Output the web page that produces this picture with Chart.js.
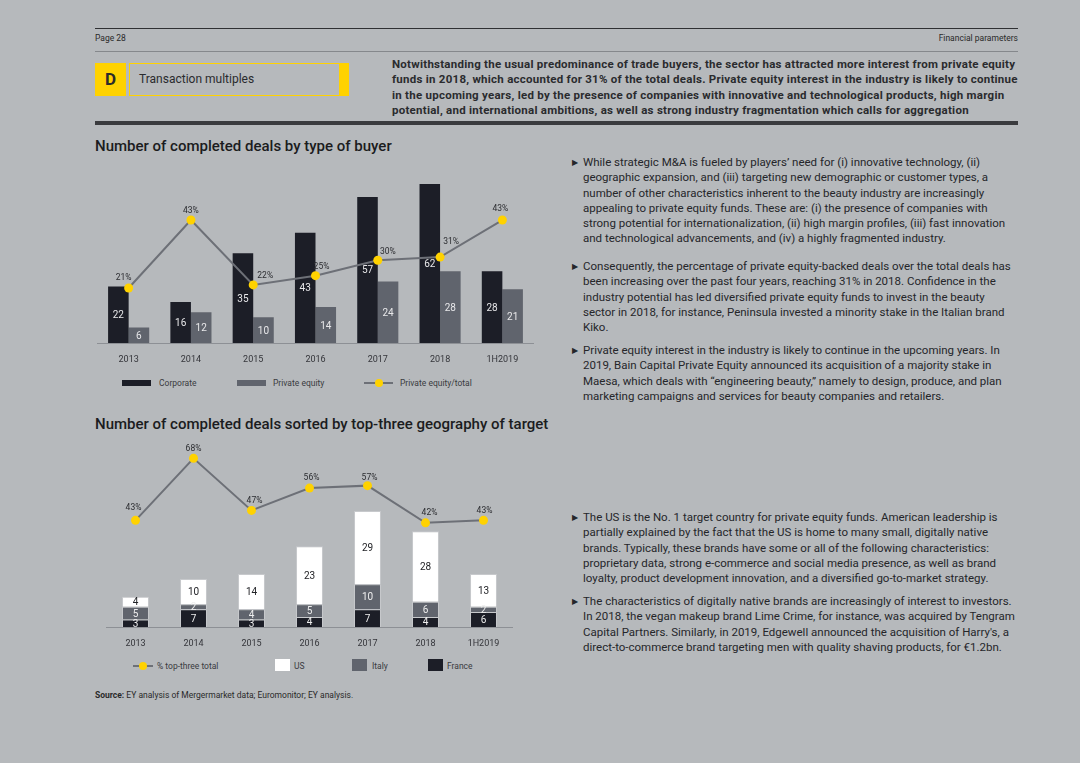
<!DOCTYPE html>
<html>
<head>
<meta charset="utf-8">
<script src="https://cdn.jsdelivr.net/npm/chart.js@4.4.0/dist/chart.umd.min.js"></script>
<style>
    body { margin: 0; width: 1080px; height: 763px; background: #b6b9bc; font-family: Roboto, sans-serif; color: #1e1f22; position: relative; overflow: hidden; }
    .abs { position: absolute; white-space: nowrap; }
    .rule { position: absolute; left: 95px; width: 923px; }
    .small { font-size: 8.5px; color: #2a2a2a; }
    .title { font-size: 15px; font-weight: 500; color: #1b1c20; }
    .para { font-size: 11.5px; line-height: 15.3px; color: #25262a; }
    .bullet { position: absolute; left: -11px; font-size: 8px; }
    .legend { font-size: 8.5px; color: #3a3b3f; }
    .sw { position: absolute; }
    canvas { position: absolute; }
</style>
</head>
<body>

<div class="rule" style="top:28px;height:1px;background:#2f3033"></div>
<div class="abs small" style="left:95px;top:33px;">Page 28</div>
<div class="abs small" style="left:900px;top:33px;width:118px;text-align:right;">Financial parameters</div>
<div class="rule" style="top:51px;height:1px;background:#85888c"></div>

<div class="abs" style="left:95px;top:63px;width:31px;height:33px;background:#ffd200;font-weight:700;font-size:17px;text-align:center;line-height:33px;color:#2b2b2b;">D</div>
<div class="abs" style="left:129px;top:63px;width:209px;height:31px;border:1px solid #ffd200;"></div>
<div class="abs" style="left:340px;top:63px;width:9px;height:33px;background:#ffd200;"></div>
<div class="abs" style="left:139px;top:72px;font-size:12px;color:#2a2b2e;">Transaction multiples</div>

<div class="abs" style="left:392px;top:57px;font-size:11.5px;letter-spacing:0.25px;font-weight:700;line-height:15.4px;color:#2a2b2e;">
Notwithstanding the usual predominance of trade buyers, the sector has attracted more interest from private equity<br>
funds in 2018, which accounted for 31% of the total deals. Private equity interest in the industry is likely to continue<br>
in the upcoming years, led by the presence of companies with innovative and technological products, high margin<br>
potential, and international ambitions, as well as strong industry fragmentation which calls for aggregation
</div>
<div class="rule" style="top:121px;height:4px;background:#3a3b3e"></div>

<div class="abs title" style="left:95px;top:137px;">Number of completed deals by type of buyer</div>
<canvas id="buyerChart" width="445" height="207" style="left:93px;top:160px;"></canvas>

<div class="sw" style="left:122px;top:380px;width:29px;height:6px;background:#1c1e27"></div>
<div class="abs legend" style="left:159px;top:378px;">Corporate</div>
<div class="sw" style="left:237px;top:380px;width:29px;height:6px;background:#60646d"></div>
<div class="abs legend" style="left:273px;top:378px;">Private equity</div>
<div class="sw" style="left:364px;top:382px;width:29px;height:2px;background:#6d7077"></div>
<div class="sw" style="left:375px;top:379px;width:8px;height:8px;border-radius:50%;background:#ffd200"></div>
<div class="abs legend" style="left:400px;top:378px;">Private equity/total</div>

<div class="abs title" style="left:95px;top:415px;">Number of completed deals sorted by top-three geography of target</div>
<canvas id="geoChart" width="415" height="221" style="left:102px;top:430px;"></canvas>

<div class="sw" style="left:133px;top:665px;width:20px;height:2px;background:#6d7077"></div>
<div class="sw" style="left:139px;top:662px;width:8px;height:8px;border-radius:50%;background:#ffd200"></div>
<div class="abs legend" style="left:157px;top:661px;">% top-three total</div>
<div class="sw" style="left:275px;top:659px;width:15px;height:12px;background:#ffffff"></div>
<div class="abs legend" style="left:294px;top:661px;">US</div>
<div class="sw" style="left:352px;top:659px;width:15px;height:12px;background:#60646d"></div>
<div class="abs legend" style="left:372px;top:661px;">Italy</div>
<div class="sw" style="left:428px;top:659px;width:15px;height:12px;background:#1c1e27"></div>
<div class="abs legend" style="left:447px;top:661px;">France</div>

<div class="abs small" style="left:95px;top:690px;"><b>Source:</b> EY analysis of Mergermarket data; Euromonitor; EY analysis.</div>

<div class="abs para" style="left:583px;top:155px;"><span class="bullet">&#9654;</span>While strategic M&amp;A is fueled by players’ need for (i) innovative technology, (ii)<br>
geographic expansion, and (iii) targeting new demographic or customer types, a<br>
number of other characteristics inherent to the beauty industry are increasingly<br>
appealing to private equity funds. These are: (i) the presence of companies with<br>
strong potential for internationalization, (ii) high margin profiles, (iii) fast innovation<br>
and technological advancements, and (iv) a highly fragmented industry.</div>

<div class="abs para" style="left:583px;top:259px;"><span class="bullet">&#9654;</span>Consequently, the percentage of private equity-backed deals over the total deals has<br>
been increasing over the past four years, reaching 31% in 2018. Confidence in the<br>
industry potential has led diversified private equity funds to invest in the beauty<br>
sector in 2018, for instance, Peninsula invested a minority stake in the Italian brand<br>
Kiko.</div>

<div class="abs para" style="left:583px;top:343px;"><span class="bullet">&#9654;</span>Private equity interest in the industry is likely to continue in the upcoming years. In<br>
2019, Bain Capital Private Equity announced its acquisition of a majority stake in<br>
Maesa, which deals with “engineering beauty,” namely to design, produce, and plan<br>
marketing campaigns and services for beauty companies and retailers.</div>

<div class="abs para" style="left:583px;top:510px;"><span class="bullet">&#9654;</span>The US is the No. 1 target country for private equity funds. American leadership is<br>
partially explained by the fact that the US is home to many small, digitally native<br>
brands. Typically, these brands have some or all of the following characteristics:<br>
proprietary data, strong e-commerce and social media presence, as well as brand<br>
loyalty, product development innovation, and a diversified go-to-market strategy.</div>

<div class="abs para" style="left:583px;top:594px;"><span class="bullet">&#9654;</span>The characteristics of digitally native brands are increasingly of interest to investors.<br>
In 2018, the vegan makeup brand Lime Crime, for instance, was acquired by Tengram<br>
Capital Partners. Similarly, in 2019, Edgewell announced the acquisition of Harry's, a<br>
direct-to-commerce brand targeting men with quality shaving products, for €1.2bn.</div>

<script>
const years = ['2013', '2014', '2015', '2016', '2017', '2018', '1H2019'];

// deals by type of buyer
const corporate = [22, 16, 35, 43, 57, 62, 28];
const privateEquity = [6, 12, 10, 14, 24, 28, 21];
const peShare = [21, 43, 22, 25, 30, 31, 43];

// deals by top-three geography
const france = [3, 7, 3, 4, 7, 4, 6];
const italy = [5, 2, 4, 5, 10, 6, 2];
const us = [4, 10, 14, 23, 29, 28, 13];
const topThreeShare = [43, 68, 47, 56, 57, 42, 43];

const DARK = '#1c1e27';
const GREY = '#60646d';
const LINE = '#6d7077';
const YELLOW = '#ffd200';

// draws the numbers on bars and the % above line points
const valueLabels = {
    id: 'valueLabels',
    afterDatasetsDraw(chart, args, opts) {
        const ctx = chart.ctx;
        chart.data.datasets.forEach((ds, i) => {
            const meta = chart.getDatasetMeta(i);
            meta.data.forEach((el, j) => {
                const v = ds.data[j];
                ctx.save();
                ctx.textAlign = 'center';
                ctx.textBaseline = 'middle';
                if (ds.type === 'line') {
                    const off = opts.lineOffsets[j];
                    ctx.font = '8.5px Roboto';
                    ctx.fillStyle = '#2b2c30';
                    ctx.fillText(v + '%', el.x + off[0], el.y + off[1]);
                } else {
                    ctx.font = '10px Roboto';
                    ctx.fillStyle = ds.labelColor;
                    ctx.fillText(v, el.x, (el.y + el.base) / 2 + 1);
                }
                ctx.restore();
            });
        });
    }
};

const xAxis = {
    grid: { display: false, drawTicks: false },
    border: { display: true, color: '#8d9095', width: 1 },
    ticks: { color: '#34353a', font: { size: 9, family: 'Roboto' }, padding: 11 },
    afterFit(scale) { scale.height = 24; }
};

new Chart(document.getElementById('buyerChart'), {
    type: 'bar',
    data: {
        labels: years,
        datasets: [
            { label: 'Corporate', data: corporate, backgroundColor: DARK, yAxisID: 'y', order: 2, labelColor: '#e8e8ea' },
            { label: 'Private equity', data: privateEquity, backgroundColor: GREY, yAxisID: 'y', order: 2, labelColor: '#e8e8ea' },
            {
                type: 'line', label: 'Private equity/total', data: peShare, yAxisID: 'y1', order: 1,
                borderColor: LINE, borderWidth: 2, pointRadius: 4.5,
                pointBackgroundColor: YELLOW, pointBorderColor: YELLOW, pointBorderWidth: 0
            }
        ]
    },
    options: {
        responsive: false,
        animation: false,
        devicePixelRatio: 1,
        layout: { padding: { top: 10, left: 0, right: 0, bottom: 0 } },
        datasets: { bar: { categoryPercentage: 0.66, barPercentage: 1 } },
        plugins: {
            legend: { display: false },
            tooltip: { enabled: false },
            valueLabels: { lineOffsets: [[-5, -10], [0, -9], [12, -9], [6, -9], [10, -8], [11, -15], [-2, -11]] }
        },
        scales: {
            x: xAxis,
            y: { display: false, min: 0, max: 67.5 },
            y1: { display: false, min: 3.2, max: 59.2 }
        }
    },
    plugins: [valueLabels]
});

new Chart(document.getElementById('geoChart'), {
    type: 'bar',
    data: {
        labels: years,
        datasets: [
            { label: 'France', data: france, backgroundColor: DARK, borderColor: '#c7c9cc', borderWidth: 1, yAxisID: 'y', order: 2, labelColor: '#eeeeee' },
            { label: 'Italy', data: italy, backgroundColor: GREY, borderColor: '#c7c9cc', borderWidth: 1, yAxisID: 'y', order: 2, labelColor: '#eeeeee' },
            { label: 'US', data: us, backgroundColor: '#ffffff', borderColor: '#c7c9cc', borderWidth: 1, yAxisID: 'y', order: 2, labelColor: '#222327' },
            {
                type: 'line', label: '% top-three total', data: topThreeShare, yAxisID: 'y1', order: 1,
                borderColor: LINE, borderWidth: 2, pointRadius: 4.5,
                pointBackgroundColor: YELLOW, pointBorderColor: YELLOW, pointBorderWidth: 0
            }
        ]
    },
    options: {
        responsive: false,
        animation: false,
        devicePixelRatio: 1,
        layout: { padding: { top: 10, left: 0, right: 0, bottom: 0 } },
        datasets: { bar: { categoryPercentage: 1, barPercentage: 0.465 } },
        plugins: {
            legend: { display: false },
            tooltip: { enabled: false },
            valueLabels: { lineOffsets: [[-2, -12], [0, -9], [3, -10], [2, -10], [2, -8], [4, -10], [1, -9]] }
        },
        scales: {
            x: Object.assign({}, xAxis, { stacked: true }),
            y: { display: false, stacked: true, min: 0, max: 74.2 },
            y1: { display: false, min: 0, max: 75.4 }
        }
    },
    plugins: [valueLabels]
});
</script>
</body>
</html>
